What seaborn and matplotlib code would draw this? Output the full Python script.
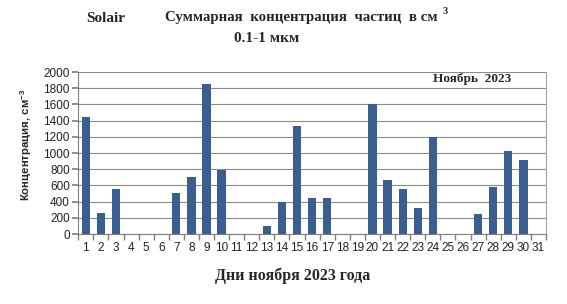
import matplotlib
matplotlib.use("Agg")
import matplotlib.pyplot as plt
import seaborn as sns
import pandas as pd
import numpy as np
from matplotlib.ticker import FixedLocator

days = [str(d) for d in range(1, 32)]
values = [1440, 260, 560, 0, 0, 0, 505, 700, 1850, 795, 0, 0, 100, 395, 1340,
          440, 440, 0, 0, 1600, 670, 560, 325, 1200, 0, 0, 250, 580, 1030, 920, 0]
yticks = list(range(0, 2001, 200))

sns.set_theme(style="white")
plt.rcParams['font.family'] = ['Liberation Sans', 'DejaVu Sans']

df = pd.DataFrame({"day": days, "value": values})

fig = plt.figure(figsize=(5.67, 3.04), dpi=100)
ax = fig.add_axes([0.138, 0.230, 0.825, 0.533])

sns.barplot(data=df, x="day", y="value", color="#3A5F8F", width=0.55,
            saturation=1, ax=ax, edgecolor="none")

ax.set_xlim(-0.5, 30.5)
ax.set_ylim(0, 2000)
ax.set_yticks(yticks)
ax.set_yticklabels([str(t) for t in yticks], fontsize=8.5, color='#222222')
ax.set_xticks(range(31))
ax.set_xticklabels(days, fontsize=8.5, color='#222222')
ax.tick_params(axis='x', which='major', length=0, pad=6)
ax.xaxis.set_minor_locator(FixedLocator(np.arange(-0.5, 31, 1)))
ax.tick_params(axis='x', which='minor', length=4, color='#808080', direction='out', bottom=True)
ax.tick_params(axis='y', which='major', length=4, color='#808080', direction='out', left=True, pad=2)
ax.grid(axis='y', color='#8c8c8c', linewidth=0.8)
ax.set_axisbelow(True)
ax.spines['top'].set_visible(False)
ax.spines['right'].set_color('#a0a0a0')
ax.spines['right'].set_linewidth(0.8)
ax.spines['left'].set_color('#808080')
ax.spines['bottom'].set_color('#808080')
ax.spines['left'].set_linewidth(0.8)
ax.spines['bottom'].set_linewidth(0.8)
ax.set_xlabel("")
ax.set_ylabel(r"Концентрация, см$^{\mathregular{-3}}$", fontsize=8.2, fontweight='bold')
ax.yaxis.set_label_coords(-0.094, 0.55)

serif = ['Liberation Serif', 'DejaVu Serif']
fig.text(106/567, 1-18/304, "Solair", family=serif, fontweight='bold', fontsize=11, ha='center', va='center')
fig.text(301/567, 1-18/304, "Суммарная  концентрация  частиц  в см", family=serif,
         fontweight='bold', fontsize=10.7, ha='center', va='center')
fig.text(445/567, 1-12/304, "3", family=serif, fontweight='bold', fontsize=7.5, ha='center', va='center')
fig.text(267/567, 1-38/304, "0.1-1 мкм", family=serif, fontweight='bold', fontsize=11, ha='center', va='center')
fig.text(293/567, 1-276/304, "Дни ноября 2023 года", family=serif, fontweight='bold', fontsize=11.5, ha='center', va='center')
fig.text(472/567, 1-79/304, "Ноябрь  2023", family=serif, fontweight='bold', fontsize=9.5, ha='center', va='center')

fig.savefig("out.png", dpi=100)
